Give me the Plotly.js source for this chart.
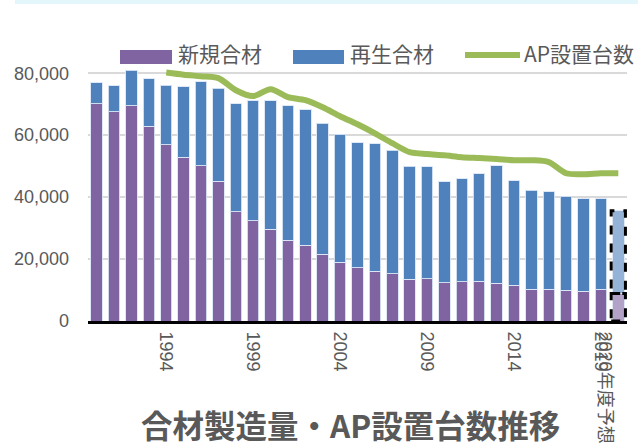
<!DOCTYPE html>
<html>
<head>
<meta charset="utf-8">
<script src="https://cdn.plot.ly/plotly-3.0.1.min.js"></script>
<style>
  html, body { margin: 0; padding: 0; background: #ffffff; }
  #chart { width: 638px; height: 448px; }
</style>
</head>
<body>
<div id="chart"></div>
<script>
// ---- data ----
const categories = ["1990","1991","1992","1993","1994","1995","1996","1997","1998","1999",
  "2000","2001","2002","2003","2004","2005","2006","2007","2008","2009",
  "2010","2011","2012","2013","2014","2015","2016","2017","2018","2019","2020年度予想"];
const newMix = [70200, 67500, 69500, 62900, 56900, 52800, 50200, 45100, 35300, 32400,
  29600, 26100, 24400, 21600, 18900, 17200, 16000, 15300, 13400, 13700,
  12400, 12700, 12800, 12200, 11500, 10200, 10200, 9900, 9600, 10300, 8900];
const recycledMix = [6700, 8500, 11500, 15300, 19200, 22900, 27000, 30100, 34900, 38700,
  41500, 43400, 43800, 42300, 41400, 40400, 41300, 39800, 36500, 36100,
  32500, 33200, 34700, 37900, 33800, 32000, 31500, 30300, 29900, 29100, 26700];
const apUnits = [null, null, null, null, 80200, 79500, 79000, 78400, 74500, 72600,
  74800, 72300, 71300, 69000, 66100, 63500, 60600, 57400, 54500, 53900,
  53500, 52900, 52600, 52300, 51900, 51900, 51300, 47700, 47400, 47700, 47700];
const tickLabels = ["1994", "1999", "2004", "2009", "2014", "2019", "2020年度予想"];
const seriesNames = ["新規合材", "再生合材", "AP設置台数"];
const chartTitle = "合材製造量・AP設置台数推移";

// ---- build ----
const W = 638, H = 448;
const M = {l: 88, r: 11, t: 67, b: 127};
const pw = W - M.l - M.r, ph = H - M.t - M.b;
const px = v => (v - M.l) / pw;          // pixel -> paper x
const py = v => (H - M.b - v) / ph;      // pixel -> paper y

const idx = categories.map((c, i) => i);
const lastIdx = categories.length - 1;
const tickPos = tickLabels.map(t => {
  const i = categories.indexOf(t);
  return t === categories[lastIdx] ? lastIdx - 0.75 : i;
});

const purple = "#8064A2", blue = "#4F81BD", green = "#9BBB59";
const purpleLight = "#B3A2C7", blueLight = "#95B3D7";
const txt = "#595959";
const cjk = "'Noto Sans CJK JP', 'Noto Sans', sans-serif";
const lat = "'Liberation Sans', Arial, sans-serif";
const mix = "'Liberation Sans', Arial, 'Noto Sans CJK JP', sans-serif";

const barW = 0.66;

const traces = [
  {
    type: "bar", name: seriesNames[0], x: idx, y: newMix, width: barW,
    marker: {color: idx.map(i => i === lastIdx ? purpleLight : purple),
             line: {color: "rgba(220,230,245,0.9)", width: 1}},
    hoverinfo: "skip"
  },
  {
    type: "bar", name: seriesNames[1], x: idx, y: recycledMix, width: barW,
    marker: {color: idx.map(i => i === lastIdx ? blueLight : blue),
             line: {color: "rgba(220,230,245,0.9)", width: 1}},
    hoverinfo: "skip"
  },
  {
    type: "scatter", mode: "lines", name: seriesNames[2], x: idx, y: apUnits,
    line: {color: green, width: 6, shape: "spline", smoothing: 0.8},
    connectgaps: false, hoverinfo: "skip"
  }
];

const ow = 0.82;
const shapes = [
  // top cyan band
  {type: "rect", xref: "paper", yref: "paper", x0: px(15), x1: px(638), y0: py(0), y1: py(4),
   fillcolor: "#E3F6FB", line: {width: 0}, layer: "below"},
  // dashed outlines of forecast bar segments
  {type: "rect", xref: "x", yref: "y", x0: lastIdx - ow/2, x1: lastIdx + ow/2,
   y0: 0, y1: newMix[lastIdx], line: {color: "#000", width: 3, dash: "dash"}},
  {type: "rect", xref: "x", yref: "y", x0: lastIdx - ow/2, x1: lastIdx + ow/2,
   y0: newMix[lastIdx], y1: newMix[lastIdx] + recycledMix[lastIdx],
   line: {color: "#000", width: 3, dash: "dash"}},
  // legend swatches
  {type: "rect", xref: "paper", yref: "paper", x0: px(120), x1: px(172), y0: py(64), y1: py(50),
   fillcolor: purple, line: {width: 0}},
  {type: "rect", xref: "paper", yref: "paper", x0: px(293), x1: px(344), y0: py(64), y1: py(50),
   fillcolor: blue, line: {width: 0}},
  {type: "line", xref: "paper", yref: "paper", x0: px(465), x1: px(520), y0: py(55), y1: py(55),
   line: {color: green, width: 6}}
];

const annotations = [
  {text: seriesNames[0], xref: "paper", yref: "paper", x: px(176), y: py(53),
   xanchor: "left", yanchor: "middle", showarrow: false, font: {family: cjk, size: 21, color: txt}},
  {text: seriesNames[1], xref: "paper", yref: "paper", x: px(348), y: py(53),
   xanchor: "left", yanchor: "middle", showarrow: false, font: {family: cjk, size: 21, color: txt}},
  {text: seriesNames[2], xref: "paper", yref: "paper", x: px(522), y: py(53),
   xanchor: "left", yanchor: "middle", showarrow: false, font: {family: cjk, size: 21, color: txt}},
  {text: "<b>" + chartTitle + "</b>", xref: "paper", yref: "paper", x: px(350), y: py(424),
   xanchor: "center", yanchor: "middle", showarrow: false, font: {family: cjk, size: 31.5, color: txt}}
];

const layout = {
  width: W, height: H,
  margin: M,
  paper_bgcolor: "#ffffff", plot_bgcolor: "#ffffff",
  barmode: "stack",
  showlegend: false,
  xaxis: {
    range: [-0.5, lastIdx + 0.5],
    tickvals: tickPos, ticktext: tickLabels, tickangle: 90,
    tickfont: {family: mix, size: 18, color: txt},
    showgrid: false, zeroline: false,
    showline: true, linecolor: "#000", linewidth: 3,
    ticks: "", ticklabelstandoff: 4
  },
  yaxis: {
    range: [0, 82000],
    tickvals: [0, 20000, 40000, 60000, 80000],
    ticktext: ["0", "20,000", "40,000", "60,000", "80,000"],
    tickfont: {family: lat, size: 18, color: txt},
    showgrid: true, gridcolor: "#D9D9D9", gridwidth: 1.5,
    zeroline: false, showline: false, ticks: "",
    ticklabelstandoff: 18
  },
  shapes: shapes,
  annotations: annotations
};

Plotly.newPlot("chart", traces, layout, {staticPlot: true, displayModeBar: false});
</script>
</body>
</html>
